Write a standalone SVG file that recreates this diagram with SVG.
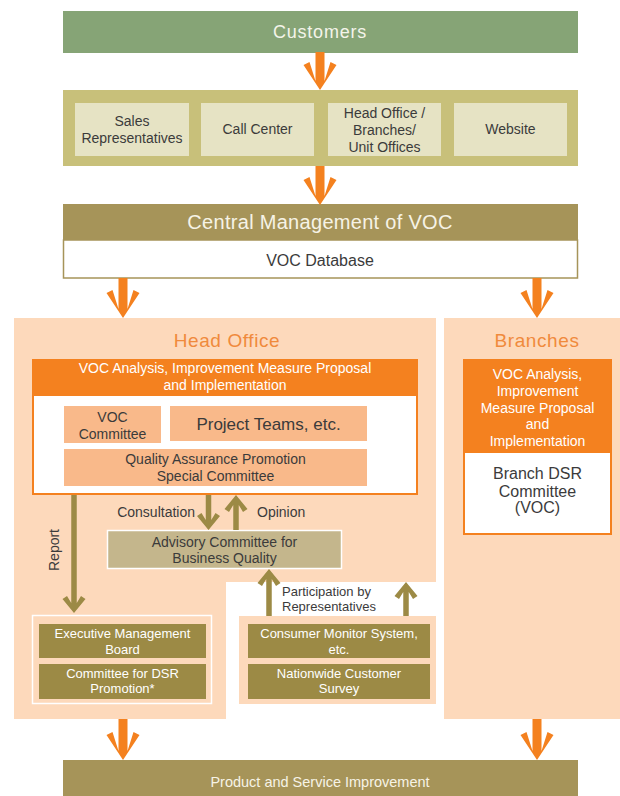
<svg xmlns="http://www.w3.org/2000/svg" width="620" height="796" viewBox="0 0 620 796">
<style>
text{font-family:"Liberation Sans",Arial,sans-serif;text-anchor:middle}
.dk{fill:#3b3b3b;font-size:14px}
.wt{fill:#ffffff;font-size:14px}
.sm{font-size:13px}
.oa{fill:#f4811f}
.ol{fill:#9c8a45}
.peach{fill:#fdd9bb}
</style>
<rect width="620" height="796" fill="#ffffff"/>
<!-- panels -->
<g id="head-office-panel">
<path class="peach" d="M14,318 H436 V582 H226 V719 H14 Z"/>
<rect class="peach" x="239" y="616" width="197" height="88"/>
<text x="227" y="347" style="font-size:19px;fill:#f08a3c;letter-spacing:0.6px">Head Office</text>
</g>
<g id="branches-panel">
<rect class="peach" x="444" y="318" width="176" height="401"/>
<text x="537" y="347" style="font-size:19px;fill:#f08a3c;letter-spacing:0.6px">Branches</text>
</g>
<g id="customers">
<rect x="63" y="11" width="515" height="42" fill="#86a476"/>
<text x="320" y="38" style="font-size:18px;fill:#f4f4ea;letter-spacing:0.8px">Customers</text>
</g>
<g id="channels">
<rect x="63" y="90" width="515" height="76" fill="#c8c07a"/>
</g>
<g id="sales-reps">
<rect x="75" y="103" width="114" height="53" fill="#e6e3c4"/>
<text class="dk" x="132" y="126">Sales</text>
<text class="dk" x="132" y="143">Representatives</text>
</g>
<g id="call-center">
<rect x="201" y="103" width="113" height="53" fill="#e6e3c4"/>
<text class="dk" x="257.5" y="134">Call Center</text>
</g>
<g id="offices">
<rect x="328" y="103" width="113" height="53" fill="#e6e3c4"/>
<text class="dk" x="384.5" y="118">Head Office /</text>
<text class="dk" x="384.5" y="135">Branches/</text>
<text class="dk" x="384.5" y="152">Unit Offices</text>
</g>
<g id="website">
<rect x="454" y="103" width="113" height="53" fill="#e6e3c4"/>
<text class="dk" x="510.5" y="134">Website</text>
</g>
<g id="central-management">
<rect x="63" y="204" width="515" height="36" fill="#a69459"/>
<rect x="63.5" y="240" width="514" height="38" fill="#ffffff" stroke="#a69459" stroke-width="1.5"/>
<text x="320" y="229" style="font-size:20px;fill:#f6f3e6;letter-spacing:0.3px">Central Management of VOC</text>
<text class="dk" x="320" y="266" style="font-size:16px">VOC Database</text>
</g>
<g id="ho-analysis">
<rect x="33" y="360" width="384" height="134" fill="#ffffff" stroke="#f4811f" stroke-width="2"/>
<rect x="32" y="359" width="386" height="37" fill="#f4811f"/>
<text class="wt" x="225" y="373">VOC Analysis, Improvement Measure Proposal</text>
<text class="wt" x="225" y="390">and Implementation</text>
</g>
<g id="voc-committee">
<rect x="64" y="406" width="97" height="37" fill="#f9b98a"/>
<text class="dk" x="112.5" y="422">VOC</text>
<text class="dk" x="112.5" y="439">Committee</text>
</g>
<g id="project-teams">
<rect x="170" y="406" width="197" height="35" fill="#f9b98a"/>
<text class="dk" x="268.5" y="430" style="font-size:17px">Project Teams, etc.</text>
</g>
<g id="qa-committee">
<rect x="64" y="449" width="303" height="37" fill="#f9b98a"/>
<text class="dk" x="215.5" y="464">Quality Assurance Promotion</text>
<text class="dk" x="215.5" y="481">Special Committee</text>
</g>
<g id="advisory">
<rect x="107.5" y="530.5" width="234" height="38" fill="#c4b68c" stroke="#ffffff" stroke-width="1.5"/>
<text class="dk" x="224.5" y="547">Advisory Committee for</text>
<text class="dk" x="224.5" y="563">Business Quality</text>
</g>
<g id="executive">
<rect x="32.5" y="615.5" width="179" height="88" fill="none" stroke="#ffffff" stroke-width="1.5"/>
<rect x="39" y="624" width="167" height="34" fill="#9c8a45"/>
<rect x="39" y="664" width="167" height="35" fill="#9c8a45"/>
<text class="wt sm" x="122.5" y="638">Executive Management</text>
<text class="wt sm" x="122.5" y="654">Board</text>
<text class="wt sm" x="122.5" y="678">Committee for DSR</text>
<text class="wt sm" x="122.5" y="693">Promotion*</text>
</g>
<g id="consumer">
<rect x="248" y="624" width="182" height="34" fill="#9c8a45"/>
<rect x="248" y="664" width="182" height="35" fill="#9c8a45"/>
<text class="wt sm" x="339" y="638">Consumer Monitor System,</text>
<text class="wt sm" x="339" y="654">etc.</text>
<text class="wt sm" x="339" y="678">Nationwide Customer</text>
<text class="wt sm" x="339" y="693">Survey</text>
</g>
<g id="branch-analysis">
<rect x="464" y="360" width="147" height="174" fill="#ffffff" stroke="#f4811f" stroke-width="2"/>
<rect x="463" y="359" width="149" height="94" fill="#f4811f"/>
<text class="wt" x="537.5" y="379">VOC Analysis,</text>
<text class="wt" x="537.5" y="396">Improvement</text>
<text class="wt" x="537.5" y="413">Measure Proposal</text>
<text class="wt" x="537.5" y="429">and</text>
<text class="wt" x="537.5" y="446">Implementation</text>
<text class="dk" x="537.5" y="479" style="font-size:16px">Branch DSR</text>
<text class="dk" x="537.5" y="497" style="font-size:16px">Committee</text>
<text class="dk" x="537.5" y="513" style="font-size:16px">(VOC)</text>
</g>
<g id="product-improvement">
<rect x="63" y="760" width="515" height="36" fill="#a69459"/>
<text class="wt" x="320" y="787" style="font-size:14.5px;fill:#f6f3e6">Product and Service Improvement</text>
</g>
<g id="connectors">
<polygon class="oa" points="315.5,52 324.5,52 324.5,81 330.5,62 336.5,65 320,90 303.5,65 309.5,62 315.5,81"/>
<polygon class="oa" points="315.5,166 324.5,166 324.5,196 330.5,177 336.5,180 320,205 303.5,180 309.5,177 315.5,196"/>
<polygon class="oa" points="118.5,278 127.5,278 127.5,309 133.5,290 139.5,293 123,318 106.5,293 112.5,290 118.5,309"/>
<polygon class="oa" points="532.5,278 541.5,278 541.5,309 547.5,290 553.5,293 537,318 520.5,293 526.5,290 532.5,309"/>
<polygon class="oa" points="118.5,719 127.5,719 127.5,751 133.5,732 139.5,735 123,760 106.5,735 112.5,732 118.5,751"/>
<polygon class="oa" points="532.5,719 541.5,719 541.5,751 547.5,732 553.5,735 537,760 520.5,735 526.5,732 532.5,751"/>
<polygon class="ol" points="71.25,495 76.75,495 76.75,603 81,596 85.5,599 74,613 62.5,599 67,596 71.25,603"/>
<polygon class="ol" points="205.75,495 211.25,495 211.25,520 215.5,513 220,516 208.5,530 197,516 201.5,513 205.75,520"/>
<polygon class="ol" points="233.25,530 238.75,530 238.75,505 243,512 247.5,509 236,495 224.5,509 229,512 233.25,505"/>
<polygon class="ol" points="266.25,616 271.75,616 271.75,579 276,586 280.5,583 269,569 257.5,583 262,586 266.25,579"/>
<polygon class="ol" points="403.25,616 408.75,616 408.75,592 413,599 417.5,596 406,582 394.5,596 399,599 403.25,592"/>
<text class="dk" x="195" y="517" style="text-anchor:end">Consultation</text>
<text class="dk" x="257" y="517" style="text-anchor:start">Opinion</text>
<text class="dk" x="0" y="0" transform="translate(59,550) rotate(-90)">Report</text>
<text class="dk sm" x="282" y="596" style="text-anchor:start">Participation by</text>
<text class="dk sm" x="282" y="611" style="text-anchor:start">Representatives</text>
</g>
</svg>
